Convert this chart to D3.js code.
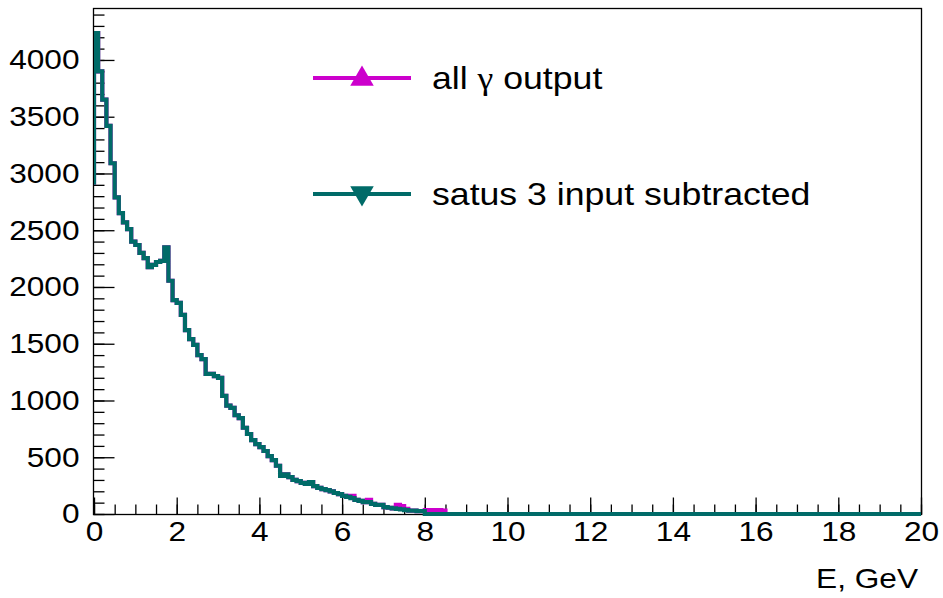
<!DOCTYPE html>
<html>
<head>
<meta charset="utf-8">
<script src="https://cdn.jsdelivr.net/npm/d3@7/dist/d3.min.js"></script>
<style>
  body { margin: 0; background: #fff; }
  svg text { font-family: "Liberation Sans", Arial, Helvetica, sans-serif; fill: #000; }
</style>
</head>
<body>
<svg id="chart" width="943" height="598"></svg>
<script>
// ---- data -------------------------------------------------------------
const binWidth = 0.1;          // GeV per bin
const energyRange = [0, 20];   // GeV
const countMax = 4449;         // top of the vertical range
const yMajorTicks = [0, 500, 1000, 1500, 2000, 2500, 3000, 3500, 4000];
const yMinorStep = 100;
const xMajorTicks = [0, 2, 4, 6, 8, 10, 12, 14, 16, 18, 20];
const xMinorStep = 0.5;
const xTitle = "E, GeV";
// legend labels, split so the Greek letter can use a symbol-style face
const seriesNames = [["all ", "\u03b3", " output"], ["satus 3 input subtracted"]];
const seriesColors = ["#cc00cc", "#006b68"];
const leftEdgeLevel = 2900;    // level the contour starts from at E = 0

// counts per 0.1 GeV bin, 0 .. 20 GeV
const allGammaOutput = [
  4237, 3900, 3650, 3420, 3090, 2790, 2650, 2570, 2510, 2400,
  2370, 2300, 2255, 2175, 2195, 2220, 2230, 2350, 2055, 1885,
  1860, 1755, 1620, 1540, 1490, 1400, 1365, 1235, 1235, 1215,
  1200, 1040,  955,  935,  870,  845,  760,  705,  650,  615,
   590,  555,  510,  475,  425,  335,  350,  325,  300,  290,
   275,  265,  280,  245,  230,  220,  210,  200,  185,  175,
   160,  150,  160,  125,  115,  105,  125,   90,   80,   80,
    60,   55,   50,   80,   70,   45,   30,   30,   25,   25,
    35,   35,   30,   35,   30,    0,    0,    0,    0,    0,
     0,    0,    0,    0,    0,    0,    0,    0,    0,    0,
     0,    0,    0,    0,    0,    0,    0,    0,    0,    0,
     0,    0,    0,    0,    0,    0,    0,    0,    0,    0,
     0,    0,    0,    0,    0,    0,    0,    0,    0,    0,
     0,    0,    0,    0,    0,    0,    0,    0,    0,    0,
     0,    0,    0,    0,    0,    0,    0,    0,    0,    0,
     0,    0,    0,    0,    0,    0,    0,    0,    0,    0,
     0,    0,    0,    0,    0,    0,    0,    0,    0,    0,
     0,    0,    0,    0,    0,    0,    0,    0,    0,    0,
     0,    0,    0,    0,    0,    0,    0,    0,    0,    0,
     0,    0,    0,    0,    0,    0,    0,    0,    0,    0
];
const status3Subtracted = [
  4237, 3900, 3650, 3420, 3090, 2790, 2650, 2570, 2510, 2400,
  2370, 2300, 2255, 2175, 2195, 2220, 2230, 2350, 2055, 1885,
  1860, 1755, 1620, 1540, 1490, 1400, 1365, 1235, 1235, 1215,
  1200, 1040,  955,  935,  870,  845,  760,  705,  650,  615,
   590,  555,  510,  475,  425,  335,  350,  325,  300,  290,
   275,  265,  280,  245,  230,  220,  210,  200,  185,  175,
   160,  150,  140,  125,  115,  105,  105,   90,   80,   80,
    60,   55,   50,   45,   40,   35,   30,   30,   25,   25,
     0,    0,    0,    0,    0,    0,    0,    0,    0,    0,
     0,    0,    0,    0,    0,    0,    0,    0,    0,    0,
     0,    0,    0,    0,    0,    0,    0,    0,    0,    0,
     0,    0,    0,    0,    0,    0,    0,    0,    0,    0,
     0,    0,    0,    0,    0,    0,    0,    0,    0,    0,
     0,    0,    0,    0,    0,    0,    0,    0,    0,    0,
     0,    0,    0,    0,    0,    0,    0,    0,    0,    0,
     0,    0,    0,    0,    0,    0,    0,    0,    0,    0,
     0,    0,    0,    0,    0,    0,    0,    0,    0,    0,
     0,    0,    0,    0,    0,    0,    0,    0,    0,    0,
     0,    0,    0,    0,    0,    0,    0,    0,    0,    0,
     0,    0,    0,    0,    0,    0,    0,    0,    0,    0
];

// ---- layout -----------------------------------------------------------
const frame = { left: 94, right: 921, top: 9, bottom: 514 };
const textScaleX = 1.13;   // horizontally stretched glyphs
const lineWidth = 4.2;
const svg = d3.select("#chart");

const x = d3.scaleLinear().domain(energyRange).range([frame.left, frame.right]);
const y = d3.scaleLinear().domain([0, countMax]).range([frame.bottom, frame.top]);

// frame box
svg.append("rect")
  .attr("x", frame.left - 0.5).attr("y", frame.top - 0.5)
  .attr("width", frame.right - frame.left + 1).attr("height", frame.bottom - frame.top + 1)
  .attr("fill", "none").attr("stroke", "#000").attr("stroke-width", 1.3);

// y axis: inward ticks, major every 500, minor every 100
const yMinor = d3.range(0, countMax, yMinorStep);
svg.append("g").attr("transform", `translate(${frame.left - 0.5},0)`)
  .call(d3.axisLeft(y).tickValues(yMinor).tickSize(-11).tickFormat(""))
  .call(g => g.select(".domain").remove())
  .call(g => g.selectAll("line").attr("stroke", "#000").attr("stroke-width", 1.3));
const yAxis = svg.append("g").attr("transform", `translate(${frame.left - 0.5},0)`)
  .call(d3.axisLeft(y).tickValues(yMajorTicks).tickSize(-21).tickFormat(d3.format("d")))
  .call(g => g.select(".domain").remove())
  .call(g => g.selectAll("line").attr("stroke", "#000").attr("stroke-width", 1.3));
yAxis.selectAll("text")
  .attr("x", -14 / textScaleX)
  .attr("transform", `scale(${textScaleX},1)`)
  .style("font-size", "28px");

// x axis: inward ticks, major every 2 GeV, minor every 0.5 GeV
const xMinor = d3.range(energyRange[0], energyRange[1] + 1e-9, xMinorStep);
svg.append("g").attr("transform", `translate(0,${frame.bottom + 0.5})`)
  .call(d3.axisBottom(x).tickValues(xMinor).tickSize(-10).tickFormat(""))
  .call(g => g.select(".domain").remove())
  .call(g => g.selectAll("line").attr("stroke", "#000").attr("stroke-width", 1.3));
const xAxis = svg.append("g").attr("transform", `translate(0,${frame.bottom + 0.5})`)
  .call(d3.axisBottom(x).tickValues(xMajorTicks).tickSize(-17).tickPadding(7).tickFormat(d3.format("d")))
  .call(g => g.select(".domain").remove())
  .call(g => g.selectAll("line").attr("stroke", "#000").attr("stroke-width", 1.3));
xAxis.selectAll("text")
  .attr("transform", `scale(${textScaleX},1)`)
  .style("font-size", "28px");

svg.append("text")
  .attr("transform", `translate(918,588) scale(${textScaleX},1)`)
  .attr("text-anchor", "end")
  .style("font-size", "28px")
  .text(xTitle);

// ---- histograms ---------------------------------------------------------
svg.append("clipPath").attr("id", "plotClip")
  .append("rect")
  .attr("x", frame.left).attr("y", 0)
  .attr("width", frame.right - frame.left).attr("height", frame.bottom + 4);

function stepPoints(counts) {
  const pts = [[energyRange[0], leftEdgeLevel]];
  counts.forEach((c, i) => {
    pts.push([energyRange[0] + i * binWidth, c]);
    pts.push([energyRange[0] + (i + 1) * binWidth, c]);
  });
  return pts;
}
const line = d3.line().x(d => x(d[0])).y(d => y(d[1]));

const plot = svg.append("g").attr("clip-path", "url(#plotClip)");
[allGammaOutput, status3Subtracted].forEach((counts, k) => {
  plot.append("path")
    .attr("d", line(stepPoints(counts)))
    .attr("fill", "none")
    .attr("stroke", seriesColors[k])
    .attr("stroke-width", lineWidth)
    .attr("stroke-linejoin", "miter");
});

// ---- legend -------------------------------------------------------------
const legendRows = [
  { y: 78, rotate: 0, dy: 1 },
  { y: 194, rotate: 180, dy: -1 }
];
legendRows.forEach((row, k) => {
  const g = svg.append("g");
  g.append("line")
    .attr("x1", 313).attr("x2", 411).attr("y1", row.y).attr("y2", row.y)
    .attr("stroke", seriesColors[k]).attr("stroke-width", lineWidth);
  g.append("path")
    .attr("d", d3.symbol(d3.symbolTriangle, 240)())
    .attr("transform", `translate(362,${row.y + row.dy}) rotate(${row.rotate})`)
    .attr("fill", seriesColors[k]);
  const t = g.append("text")
    .attr("transform", `translate(432,${row.y + 11}) scale(1.15,1)`)
    .style("font-size", "31px");
  seriesNames[k].forEach(part => {
    const span = t.append("tspan").text(part);
    if (part === "\u03b3") span.style("font-family", "'Liberation Serif', 'DejaVu Serif', serif");
  });
});
</script>
</body>
</html>
